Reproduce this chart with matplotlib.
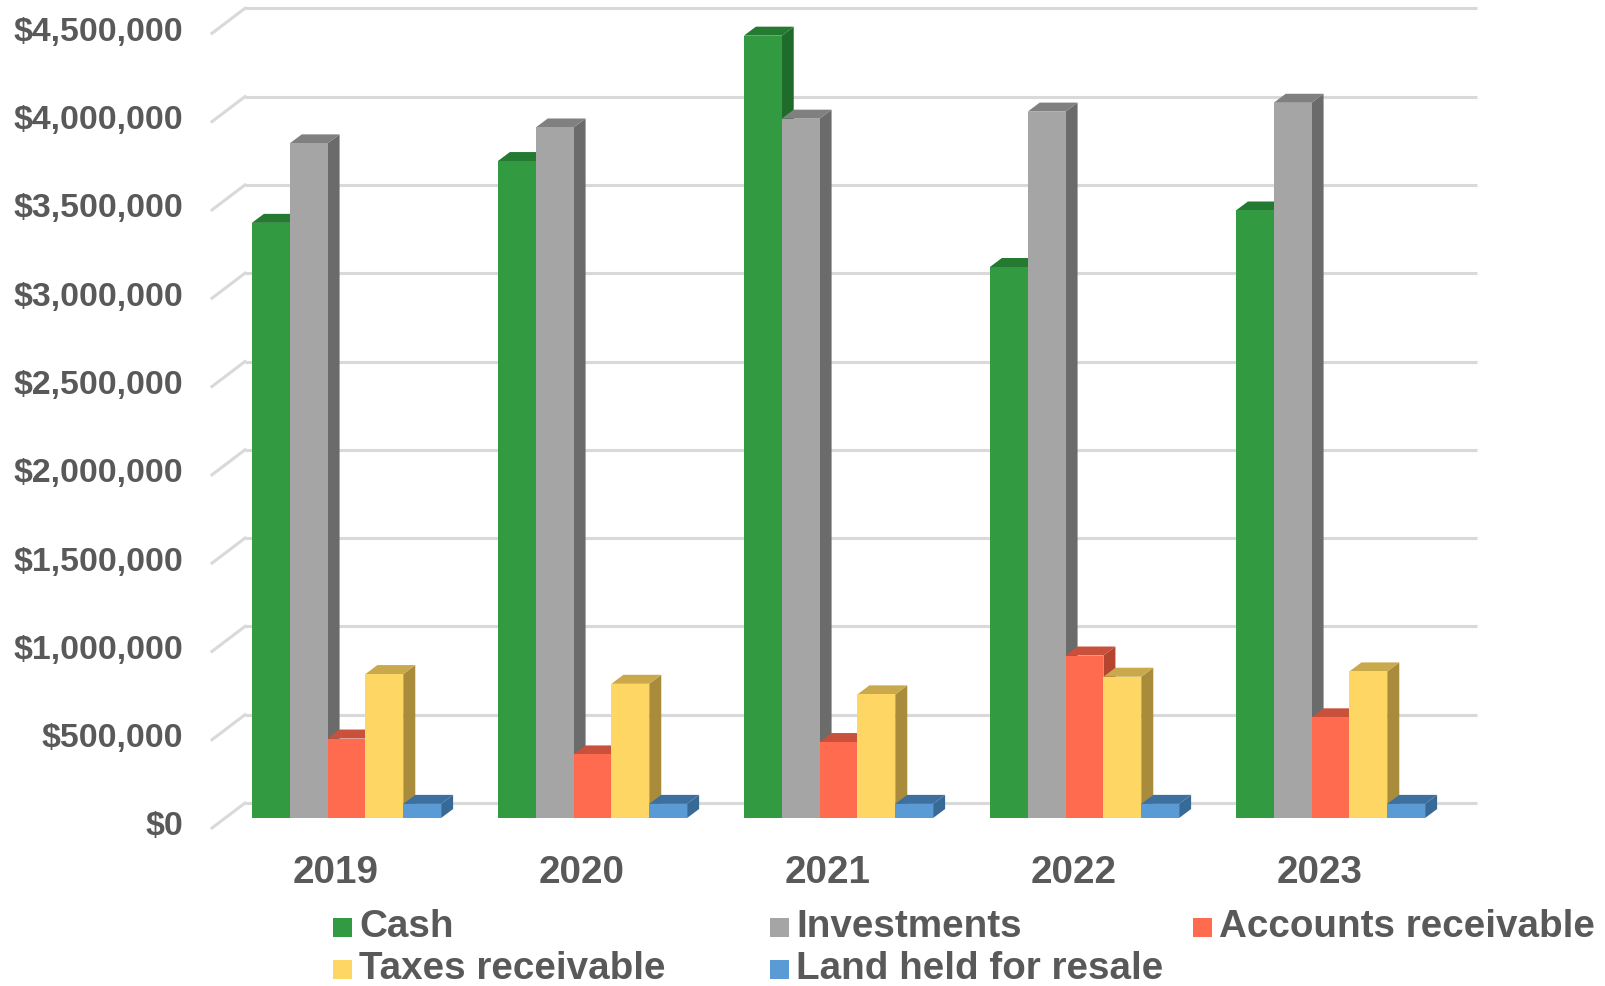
import matplotlib
matplotlib.use("Agg")
import matplotlib.pyplot as plt
from matplotlib.patches import Polygon, Rectangle
from matplotlib import transforms

# ---- data -------------------------------------------------------------
years = ["2019", "2020", "2021", "2022", "2023"]
series_names = ["Cash", "Investments", "Accounts receivable",
                "Taxes receivable", "Land held for resale"]
cash = [3370000, 3720000, 4430000, 3120000, 3440000]
investments = [3820000, 3910000, 3960000, 4000000, 4050000]
accounts_receivable = [450000, 360000, 430000, 920000, 570000]
taxes_receivable = [815000, 760000, 700000, 800000, 830000]
land_held = [80000, 80000, 80000, 80000, 80000]
y_ticks = [0, 500000, 1000000, 1500000, 2000000, 2500000,
           3000000, 3500000, 4000000, 4500000]

series_values = [cash, investments, accounts_receivable, taxes_receivable, land_held]

# face colours: front, top, side
colors = [
    ("#329B41", "#237A30", "#1F6B2A"),
    ("#A5A5A5", "#808080", "#6B6B6B"),
    ("#FF6B4F", "#C9503B", "#B5452F"),
    ("#FDD663", "#C9A94B", "#A98C3B"),
    ("#5B9BD5", "#3D6F9F", "#386A97"),
]
text_color = "#595959"
grid_color = "#D9D9D9"

# ---- layout (pixels of the 1606x986 canvas) --------------------------
W, H = 1606, 986
PX_PER_CAT = 246.0        # one category step
X0_PX = 346.5             # centre of first category on bar plane
BASE_PX = 818.0           # $0 on bar plane
PX_PER_UNIT = 176.6 / 1e6 # pixels per dollar

def px_dx(px):
    return px / PX_PER_CAT

def px_dv(px):
    return px / PX_PER_UNIT

# oblique depth offsets relative to the bar plane
back_dx, back_dv = px_dx(20), px_dv(15)
front_dx, front_dv = px_dx(-13), px_dv(-10)
bar_dx, bar_dv = px_dx(12), px_dv(9)

wall_left_x = px_dx(245 - X0_PX)
wall_right_x = px_dx(1477 - X0_PX)

plt.rcParams["font.family"] = ["Liberation Sans", "DejaVu Sans"]
plt.rcParams["font.weight"] = "bold"

fig = plt.figure(figsize=(W / 100, H / 100), dpi=100)
ax = fig.add_axes([0, 0, 1, 1])
ax.set_xlim(px_dx(-X0_PX), px_dx(W - X0_PX))
ax.set_ylim(px_dv(BASE_PX - H), px_dv(BASE_PX))
ax.axis("off")

# ---- back wall gridlines and left-side diagonals ----------------------
for v in y_ticks:
    ax.plot([wall_left_x, wall_right_x], [v + back_dv, v + back_dv],
            color=grid_color, lw=2.2, zorder=1, solid_capstyle="butt")
    ax.plot([wall_left_x - (back_dx - front_dx), wall_left_x],
            [v + front_dv, v + back_dv],
            color=grid_color, lw=2.2, zorder=1)
    ax.text(px_dx(183 - X0_PX), v + front_dv + px_dv(1), f"${v:,.0f}",
            ha="right", va="center", fontsize=24.4, color=text_color,
            fontweight="bold")

# ---- 3D columns -------------------------------------------------------
n = len(series_values)
bar_w = 1.0 / (n + 1.5)
group_w = bar_w * n
z = 2
for i in range(len(years)):
    for s in range(n):
        v = series_values[s][i]
        xl = i - group_w / 2 + s * bar_w
        xr = xl + bar_w
        front, top, side = colors[s]
        ax.add_patch(Polygon([(xr, 0), (xr + bar_dx, bar_dv),
                              (xr + bar_dx, v + bar_dv), (xr, v)],
                             closed=True, facecolor=side, edgecolor="none", zorder=z))
        ax.add_patch(Polygon([(xl, v), (xl + bar_dx, v + bar_dv),
                              (xr + bar_dx, v + bar_dv), (xr, v)],
                             closed=True, facecolor=top, edgecolor="none", zorder=z))
        ax.bar(xl, v, width=bar_w, align="edge", color=front,
               edgecolor="none", zorder=z + 0.5)
        z += 1

# ---- category labels ---------------------------------------------------
blend = transforms.blended_transform_factory(ax.transData, fig.transFigure)
for i, yr in enumerate(years):
    ax.text(i + front_dx + px_dx(2), 1 - 873 / H, yr, transform=blend,
            ha="center", va="center", fontsize=27.8, color=text_color,
            fontweight="bold")

# ---- legend ------------------------------------------------------------
legend_slots = [(333, 927), (770, 927), (1193, 927), (333, 969), (770, 969)]
text_gap = 26
sq = 19
for (mx, my), name, (front, _, _) in zip(legend_slots, series_names, colors):
    fig.patches.append(Rectangle((mx / W, 1 - (my + sq / 2) / H), sq / W, sq / H,
                                 transform=fig.transFigure, facecolor=front,
                                 edgecolor="none"))
    fig.text((mx + text_gap) / W, 1 - my / H, name, ha="left", va="center",
             fontsize=27.8, color=text_color, fontweight="bold")

fig.savefig("out.png", dpi=100)
